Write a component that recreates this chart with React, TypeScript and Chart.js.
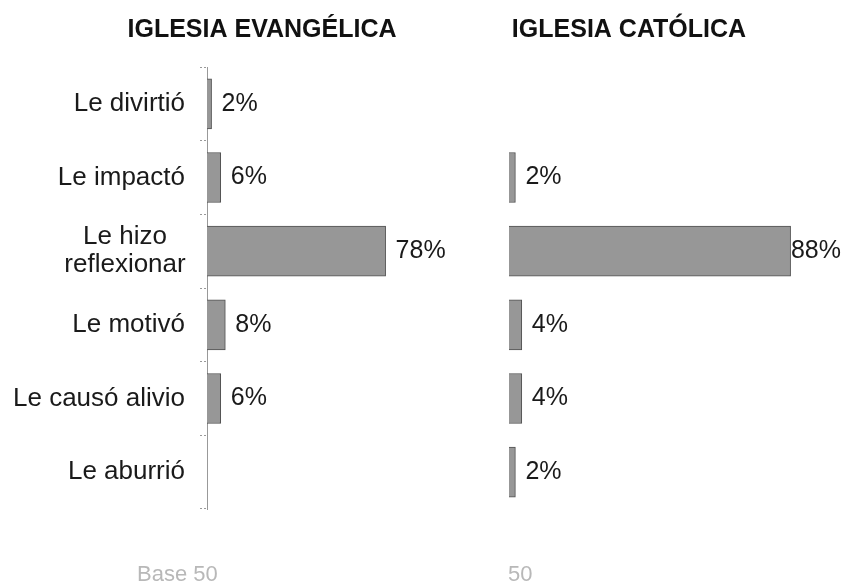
import React, { useEffect, useRef } from 'react';
import { Chart, registerables } from 'chart.js';

Chart.register(...registerables);

const categories: (string | string[])[] = [
  'Le divirtió',
  'Le impactó',
  ['Le hizo', 'reflexionar'],
  'Le motivó',
  'Le causó alivio',
  'Le aburrió',
];
const evangelicaValues: (number | null)[] = [2, 6, 78, 8, 6, null];
const catolicaValues: (number | null)[] = [null, 2, 88, 4, 4, 2];
const titles = ['IGLESIA EVANGÉLICA', 'IGLESIA CATÓLICA'];
const baseLabels = ['Base 50', '50'];

const FONT = "'Liberation Sans', Arial, sans-serif";

type PanelCfg = {
  values: (number | null)[];
  title: string;
  titleX: number;
  base: string;
  baseX: number;
  showCats: boolean;
  padLeft: number;
  padRight: number;
  axisWidth: number;
};

function makeChart(canvas: HTMLCanvasElement, cfg: PanelCfg) {
  const textPlugin = {
    id: 'texts',
    afterDraw(chart: any) {
      const ctx = chart.ctx as CanvasRenderingContext2D;
      ctx.save();
      // title
      ctx.fillStyle = '#111';
      ctx.font = `bold 25px ${FONT}`;
      ctx.textAlign = 'center';
      ctx.textBaseline = 'middle';
      ctx.fillText(cfg.title, cfg.titleX, 30);
      // base
      ctx.fillStyle = '#b8b8b8';
      ctx.font = `22px ${FONT}`;
      ctx.textAlign = 'left';
      ctx.fillText(cfg.base, cfg.baseX, 575);
      // value labels
      const meta = chart.getDatasetMeta(0);
      ctx.fillStyle = '#1a1a1a';
      ctx.font = `25px ${FONT}`;
      ctx.textBaseline = 'middle';
      meta.data.forEach((el: any, i: number) => {
        const v = cfg.values[i];
        if (v == null) return;
        const txt = `${v}%`;
        const w = ctx.measureText(txt).width;
        const x = Math.min(el.x + 10, chart.width - w - 2);
        ctx.fillText(txt, x, el.y);
      });
      // category labels
      if (cfg.showCats) {
        const ys = chart.scales.y;
        ctx.font = `26px ${FONT}`;
        categories.forEach((c, i) => {
          const y = ys.getPixelForValue(i);
          if (Array.isArray(c)) {
            ctx.textAlign = 'center';
            const lh = 28;
            c.forEach((line, j) => {
              ctx.fillText(line, 125, y + (j - (c.length - 1) / 2) * lh);
            });
          } else {
            ctx.textAlign = 'right';
            ctx.fillText(c, 185, y);
          }
        });
      }
      ctx.restore();
    },
  };

  return new Chart(canvas, {
    type: 'bar',
    data: {
      labels: categories,
      datasets: [
        {
          data: cfg.values,
          backgroundColor: '#979797',
          borderColor: '#505050',
          borderWidth: 1,
          barThickness: 50,
        },
      ],
    },
    options: {
      indexAxis: 'y',
      animation: false,
      responsive: false,
      maintainAspectRatio: false,
      layout: {
        padding: { top: 67, bottom: 76, left: cfg.padLeft, right: cfg.padRight },
      },
      plugins: {
        legend: { display: false },
        title: { display: false },
        tooltip: { enabled: false },
      },
      scales: {
        x: {
          display: false,
          min: 0,
          max: 100,
        },
        y: {
          display: cfg.showCats,
          afterFit: (scale: any) => {
            scale.width = cfg.axisWidth;
          },
          ticks: { display: false },
          grid: {
            offset: true,
            drawOnChartArea: false,
            drawTicks: true,
            tickLength: 7,
            color: '#999',
            tickBorderDash: [2, 2],
          },
          border: { display: true, color: '#999', dash: [2, 2] },
        },
      },
    },
    plugins: [textPlugin],
  });
}

export default function App() {
  const leftRef = useRef<HTMLCanvasElement>(null);
  const rightRef = useRef<HTMLCanvasElement>(null);

  useEffect(() => {
    const c1 = makeChart(leftRef.current!, {
      values: evangelicaValues,
      title: titles[0],
      titleX: 262,
      base: baseLabels[0],
      baseX: 137,
      showCats: true,
      padLeft: 0,
      padRight: 44,
      axisWidth: 207,
    });
    const c2 = makeChart(rightRef.current!, {
      values: catolicaValues,
      title: titles[1],
      titleX: 149,
      base: baseLabels[1],
      baseX: 28,
      showCats: false,
      padLeft: 29,
      padRight: 14,
      axisWidth: 0,
    });
    return () => {
      c1.destroy();
      c2.destroy();
    };
  }, []);

  return (
    <div style={{ position: 'absolute', left: 0, top: 0, width: 843, height: 585, background: '#fff' }}>
      <canvas ref={leftRef} width={480} height={585} style={{ position: 'absolute', left: 0, top: 0 }} />
      <canvas ref={rightRef} width={363} height={585} style={{ position: 'absolute', left: 480, top: 0 }} />
    </div>
  );
}
